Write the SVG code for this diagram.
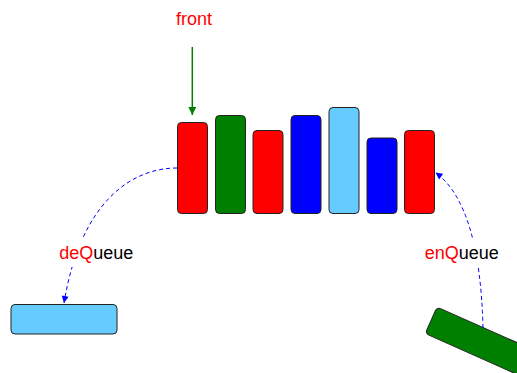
<svg xmlns="http://www.w3.org/2000/svg" width="517" height="373" viewBox="0 0 517 373">
<style>
.bar{stroke:#222;stroke-width:1}
.lbl{font-family:"Liberation Sans",Arial,sans-serif;font-size:18px;text-anchor:middle}
.red{fill:#ff0000}
.conn{fill:none;stroke:#0000ff;stroke-width:1;stroke-dasharray:4 3}
</style>
<defs>
<marker id="ab" viewBox="0 0 10 10" refX="10" refY="5" markerWidth="8" markerHeight="7" markerUnits="userSpaceOnUse" orient="auto"><path d="M0,0L10,5L0,10z" fill="#0000ff"/></marker>
<marker id="ag" viewBox="0 0 10 10" refX="10" refY="5" markerWidth="8" markerHeight="8" markerUnits="userSpaceOnUse" orient="auto"><path d="M0,0L10,5L0,10z" fill="#008000"/></marker>
</defs>
<rect width="517" height="373" fill="#fff"/>
<g id="queue">
<rect class="bar" x="177.5" y="122.5" width="30" height="91" rx="4" fill="#ff0000"/>
<rect class="bar" x="215.5" y="115.5" width="30" height="98" rx="4" fill="#008000"/>
<rect class="bar" x="253" y="130.5" width="30" height="83" rx="4" fill="#ff0000"/>
<rect class="bar" x="291" y="115.5" width="30" height="98" rx="4" fill="#0000ff"/>
<rect class="bar" x="329" y="107.5" width="30" height="106" rx="4" fill="#66ccff"/>
<rect class="bar" x="367" y="138" width="30" height="75.5" rx="4" fill="#0000ff"/>
<rect class="bar" x="404.5" y="130.5" width="30" height="83" rx="4" fill="#ff0000"/>
</g>
<g id="removed">
<rect class="bar" x="11" y="304.5" width="106" height="29.5" rx="4" fill="#66ccff"/>
</g>
<g id="incoming">
<rect class="bar" x="0" y="0" width="110" height="29" rx="4" fill="#008000" transform="translate(437,307) rotate(24)"/>
</g>
<g id="connectors">
<line x1="192.3" y1="47" x2="192.3" y2="115" stroke="#008000" stroke-width="1.5" marker-end="url(#ag)"/>
<path class="conn" d="M177,168 C133,168 81,200 64,303" marker-end="url(#ab)"/>
<path class="conn" d="M483,328 Q480,205 435.5,172.5" marker-end="url(#ab)"/>
<rect x="56" y="238" width="82" height="29" fill="#fff"/>
<rect x="422" y="238" width="80" height="29" fill="#fff"/>
</g>
<g id="labels">
<text class="lbl red" x="194" y="25">front</text>
<text class="lbl" x="96.3" y="259"><tspan fill="#ff0000">deQ</tspan><tspan fill="#000">ueue</tspan></text>
<text class="lbl" x="461.7" y="259"><tspan fill="#ff0000">enQ</tspan><tspan fill="#000">ueue</tspan></text>
</g>
</svg>
